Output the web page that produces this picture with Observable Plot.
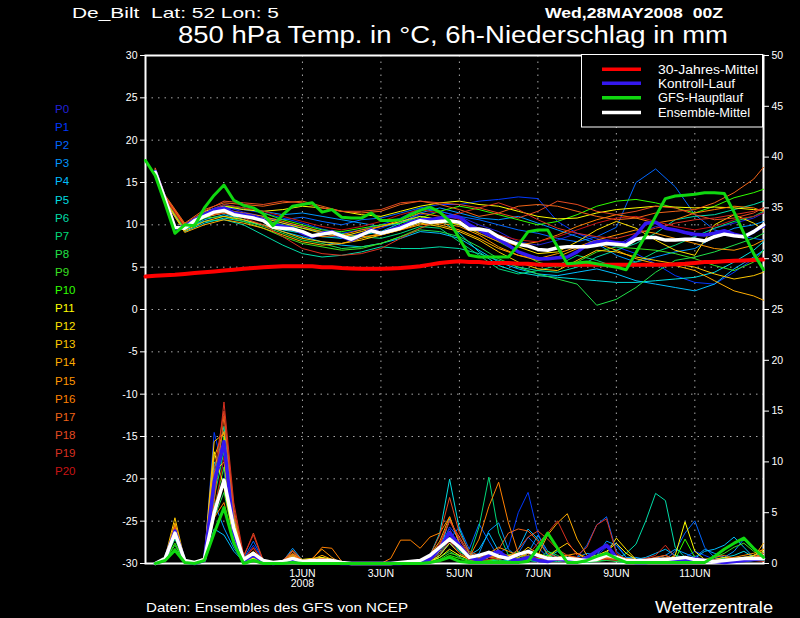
<!DOCTYPE html>
<html><head><meta charset="utf-8">
<script src="https://cdn.jsdelivr.net/npm/d3@7"></script>
<script src="https://cdn.jsdelivr.net/npm/@observablehq/plot@0.6"></script>
<style>
html,body{margin:0;padding:0;background:#000;}
#wrap{position:relative;width:800px;height:618px;background:#000;overflow:hidden;}
#wrap svg{position:absolute;left:0;top:0;}
</style></head><body><div id="wrap"></div>
<script>
// ---------------- DATA ----------------
const keyHours = [0,6,12,18,24,30,36,42,48,54,60,66,72,78,84,90,96,102,108,114,120,126,132,138,144,150,156,162,168,174,180,186,192,198,204,210,216,222,228,234,240,246,252,258,264,270,276,282,288,294,300,306,312,318,324,330,336,342,348,354,360,366,372,378];
const ensHours = [6,12,18,24,30,36,42,48,54,60,66,72,78,84,90,96,102,108,114,120,126,132,138,144,150,156,162,168,174,180,186,192,198,204,210,216,222,228,234,240,246,252,258,264,270,276,282,288,294,300,306,312,318,324,330,336,342,348,354,360,366,372,378];
const memberHours = [6,12,24,36,48,60,72,84,96,108,120,132,144,156,168,180,192,204,216,228,240,252,264,276,288,300,312,324,336,348,360,372,378];

// 30-year mean (keyHours)
const climTemp = [3.9,4.0,4.05,4.1,4.2,4.3,4.4,4.5,4.6,4.7,4.8,4.9,5.0,5.05,5.1,5.1,5.1,5.1,5.0,5.0,4.9,4.85,4.8,4.8,4.8,4.85,4.9,5.0,5.1,5.3,5.5,5.6,5.7,5.6,5.6,5.5,5.5,5.5,5.4,5.4,5.3,5.3,5.3,5.3,5.3,5.3,5.3,5.3,5.3,5.3,5.3,5.3,5.3,5.3,5.35,5.4,5.5,5.6,5.6,5.7,5.75,5.8,5.85,5.9];
// GFS main run (keyHours)
const gfsTemp = [17.6,15.8,12.5,9.0,10.0,9.9,12.0,13.5,14.7,12.9,12.3,12.0,11.3,9.9,11.2,12.2,12.4,12.6,11.5,11.8,10.9,10.8,10.8,11.4,10.5,10.5,10.6,11.2,11.7,12.1,11.5,10.4,8.4,6.4,6.2,6.2,6.2,6.2,7.6,9.2,9.4,9.4,7.4,5.4,5.5,5.6,5.4,5.2,5.0,4.7,6.7,8.8,11.0,13.1,13.4,13.5,13.6,13.8,13.8,13.7,11.5,9.0,6.6,4.7];
// control run (ensHours)
const ctrlTemp = [16.3,13.0,9.6,9.8,10.6,11.2,11.8,12.0,11.4,11.2,11.0,10.6,10.0,9.8,9.6,9.0,8.6,9.0,9.2,8.6,8.2,8.8,9.4,9.0,9.4,9.8,10.3,10.6,10.6,10.8,11.0,10.9,10.0,9.4,8.8,8.3,7.6,6.8,6.4,6.0,6.0,6.1,6.2,6.8,7.6,8.0,8.1,7.9,7.8,8.8,10.2,10.3,9.6,9.4,9.1,8.9,8.8,9.0,9.3,8.9,8.6,9.2,9.9];
// ensemble mean (ensHours)
const meanTemp = [16.2,13.0,9.7,9.6,10.5,11.0,11.5,11.7,11.2,11.0,10.8,10.5,9.7,9.6,9.5,9.2,8.7,8.9,9.1,8.7,8.3,8.8,9.3,9.0,9.3,9.6,10.1,10.5,10.3,10.4,10.5,10.3,9.5,9.5,9.3,8.6,8.1,7.7,7.5,7.1,7.0,7.3,7.4,7.4,7.4,7.6,7.8,7.7,7.6,8.3,8.5,8.5,8.2,8.2,8.3,8.3,8.1,8.6,8.9,8.7,8.6,9.2,10.0];

// members P0..P20 temperature (memberHours)
const tP0 = [16.4,13.2,9.9,11.3,12.2,11.5,11.0,10.2,9.8,9.0,8.4,9.0,9.6,10.4,11.2,11.6,11.0,10.0,9.2,8.0,7.6,8.2,9.0,8.4,7.6,8.8,9.8,9.4,8.6,9.6,10.2,10.8,11.4];
const tP1 = [16.3,13.1,9.8,11.2,12.0,11.8,11.4,10.8,10.2,9.5,9.0,9.4,10.0,10.8,12.0,12.4,12.4,12.8,13.0,13.3,13.1,10.4,9.0,8.0,7.4,6.6,5.4,4.0,3.2,3.0,4.4,6.0,7.0];
const tP2 = [16.2,13.0,9.5,11.0,11.9,11.2,10.8,10.6,10.9,10.4,10.0,10.6,10.8,11.4,12.0,11.6,11.0,10.6,10.0,9.4,9.0,8.4,8.0,8.6,9.7,15.0,16.6,14.5,11.2,9.4,8.8,8.4,8.2];
const tP3 = [16.5,13.3,10.0,11.5,12.4,12.0,11.6,11.2,11.4,11.0,10.6,10.2,9.8,10.2,11.4,12.0,11.4,10.8,10.6,11.0,10.2,9.4,8.6,7.8,6.4,5.6,6.2,6.8,7.2,8.6,9.6,10.0,10.4];
const tP4 = [16.1,12.8,9.4,10.6,11.2,10.6,10.0,9.2,8.6,8.0,7.6,7.4,7.8,8.4,9.2,9.0,8.4,7.0,5.6,4.8,4.2,4.0,4.4,4.8,4.2,3.4,3.0,2.6,2.2,3.0,4.8,6.2,7.0];
const tP5 = [16.0,12.7,9.2,10.2,10.8,10.4,10.0,9.4,9.0,8.6,8.4,8.8,9.2,10.2,11.0,10.6,9.0,6.8,5.2,4.4,4.0,3.8,3.6,3.4,3.2,3.2,3.4,3.6,3.8,4.4,5.6,7.0,8.0];
const tP6 = [16.3,13.0,9.6,10.4,10.6,10.0,8.8,7.6,6.6,6.2,6.4,6.8,7.4,7.2,7.2,7.4,7.2,6.6,5.8,5.0,4.6,4.4,5.0,6.2,7.0,7.8,9.0,10.6,11.0,11.2,11.8,12.4,12.8];
const tP7 = [16.2,12.9,9.4,10.8,11.6,11.2,10.6,10.0,9.6,9.2,9.0,8.6,8.4,9.0,9.8,9.6,8.0,6.4,4.8,4.2,4.6,5.2,6.4,5.8,5.0,5.6,6.8,7.6,8.6,9.6,10.4,11.0,11.6];
const tP8 = [16.4,13.1,9.7,11.0,11.4,10.6,9.8,9.0,8.2,7.8,7.2,7.4,7.8,8.6,9.4,9.2,8.6,7.4,6.0,5.0,4.2,3.6,3.0,0.5,1.2,2.6,4.4,5.8,6.2,6.8,7.6,8.4,9.0];
const tP9 = [16.3,13.0,9.6,10.8,11.0,10.4,9.6,8.6,7.8,7.4,7.0,7.2,7.8,8.6,9.6,10.4,10.0,9.0,8.0,6.8,5.6,5.0,5.6,6.8,7.4,7.2,7.0,6.6,6.0,5.2,4.6,5.6,7.0];
const tP10 = [16.6,13.4,10.1,11.4,12.2,12.0,11.4,10.6,10.0,9.4,9.2,9.6,10.0,10.2,10.8,11.6,12.2,11.8,11.2,10.6,10.0,10.4,11.2,12.2,12.8,13.0,12.6,12.0,11.4,12.2,13.2,13.8,14.2];
const tP11 = [16.5,13.2,9.9,11.6,12.2,11.8,11.6,11.8,12.2,12.0,11.6,11.2,11.0,11.6,12.2,12.6,12.8,12.4,12.2,11.6,11.0,10.7,10.8,11.4,11.8,12.0,12.2,12.1,12.0,12.1,12.0,11.8,11.7];
const tP12 = [16.4,13.1,9.8,10.9,11.4,11.0,10.8,10.2,9.6,9.0,8.6,9.2,9.8,10.4,11.0,10.6,10.0,9.2,8.6,7.4,6.6,6.8,8.0,9.4,10.4,9.6,8.2,7.0,6.4,10.0,11.2,10.2,9.4];
const tP13 = [16.3,12.9,9.3,10.4,11.0,10.6,10.0,9.2,8.4,8.0,7.8,8.2,8.8,9.4,10.2,9.8,9.2,8.2,6.8,5.6,4.8,4.6,5.8,7.0,6.8,6.2,5.8,5.4,5.0,4.2,3.6,4.0,4.4];
const tP14 = [16.2,12.8,9.1,10.0,10.6,10.2,9.6,8.8,8.0,7.6,7.8,8.4,9.0,9.8,10.4,10.0,9.4,8.4,7.2,6.4,5.8,6.2,7.2,7.8,7.0,6.0,5.4,5.2,4.6,3.4,2.2,1.6,1.1];
const tP15 = [16.5,13.3,9.9,11.2,11.8,11.4,11.0,10.4,9.8,9.2,8.8,8.6,8.8,9.4,10.0,10.2,9.8,8.8,7.4,6.4,6.0,6.6,7.4,8.2,8.8,9.4,9.0,8.4,7.8,7.2,7.0,7.6,8.2];
const tP16 = [16.6,13.4,10.0,11.0,11.6,11.2,10.6,9.8,9.0,8.6,8.8,9.4,9.8,10.6,11.4,11.0,10.2,9.0,8.0,7.6,8.0,8.8,9.8,10.6,11.2,10.8,10.2,10.6,11.4,11.8,12.2,12.0,11.6];
const tP17 = [16.7,13.5,10.2,11.8,12.6,12.4,12.2,12.6,12.8,12.2,11.6,11.4,11.6,12.4,12.8,12.4,11.8,11.0,11.4,12.2,12.4,12.2,11.6,11.0,10.6,10.8,11.4,11.6,11.8,12.6,13.8,15.4,16.8];
const tP18 = [16.6,13.4,10.1,11.6,12.8,12.6,12.4,12.8,12.6,12.0,11.6,11.6,11.8,12.6,12.8,12.6,12.4,12.0,11.4,10.8,11.6,12.8,12.4,11.6,11.2,11.6,12.2,12.0,11.2,10.6,10.8,11.4,12.0];
const tP19 = [16.5,13.2,9.8,11.0,11.4,10.8,10.0,8.6,7.2,6.6,6.4,6.6,7.2,8.4,9.6,10.6,11.4,12.0,12.6,11.8,10.6,9.6,9.0,8.6,8.4,9.0,9.6,10.2,10.6,10.8,11.2,11.6,12.0];
const tP20 = [16.4,13.1,9.7,11.4,12.4,12.0,11.6,11.0,10.4,9.8,9.4,9.8,10.4,11.2,11.8,11.4,10.6,9.6,8.8,8.2,8.0,8.6,9.4,10.2,10.8,11.0,10.4,9.8,9.4,9.8,10.6,11.0,11.4];

// 6h precipitation in mm (ensHours)
const gfsPrecip = [0,0.3,1.3,0.1,0,0.3,3.0,5.5,2.0,0,0.3,0,0,0,0.1,0,0,0,0,0,0,0,0,0,0,0,0,0,0.1,0.3,0.6,0.2,0.1,0.1,0.1,0.1,0.1,0.1,0.2,1.5,3.0,1.5,0.1,0.1,0.3,0.7,1.0,0.5,0.1,0.1,0.1,0.1,0.1,0.1,0.1,0.1,0.1,0.7,1.4,2.0,2.5,1.5,0.6];
const ctrlPrecip = [0,0.4,3.2,0.2,0,0.3,8.0,12.0,3.0,0.3,0.8,0.2,0,0.1,0.4,0.1,0.1,0.2,0.1,0,0,0,0,0,0,0,0.1,0.1,0.4,1.5,3.0,1.8,0.6,0.3,0.8,1.2,0.5,0.3,0.6,0.3,0.2,0.5,0.3,0.2,0.6,1.2,1.8,0.6,0.2,0.1,0.1,0.2,0.3,0.2,0.3,0.5,0.3,0.2,0.1,0.2,0.3,0.4,0.5];
const meanPrecip = [0,0.5,3.0,0.3,0.1,0.4,5.0,8.2,3.5,0.4,1.0,0.3,0.1,0.2,0.5,0.2,0.3,0.3,0.3,0.1,0,0,0,0,0,0.1,0.2,0.3,0.8,1.6,2.4,1.6,0.6,0.8,1.1,0.7,0.5,0.9,1.2,0.8,0.5,0.5,0.5,0.4,0.3,0.4,0.8,0.6,0.3,0.3,0.3,0.4,0.4,0.5,0.6,0.4,0.3,0.2,0.3,0.4,0.5,0.5,0.5];

const pP0 = [0,0.4,3.2,0.2,0,0.3,7.5,11.0,3.0,0.3,0.6,0.2,0,0.2,0.5,0.1,0.2,0.3,0.2,0,0,0,0,0,0, 0,0,0.1,0.6,1.8,3.4,1.6,0.5,0.3,0.8,0.6,0.3,0.6,1.0,0.5,0.3,0.6,0.4,0.2,0.3,0.5,1.2,0.6,0.2,0.1,0.2,0.3,0.2,0.4,0.6,0.5,0.3,0.2,0.1,0.3,0.4,0.5,0.6];
const pP1 = [0,0.5,3.4,0.3,0,0.4,12.9,9.0,2.5,0.4,1.8,0.3,0,0.2,0.8,0.2,0.3,0.4,0.2,0,0,0,0,0,0, 0,0,0,0.3,1.4,3.6,2.4,0.8,0.6,1.2,1.0,1.6,5.0,7.0,3.0,0.8,0.4,0.3,0.2,0.4,0.8,1.6,2.0,0.6,0.3,0.2,0.4,0.3,0.2,0.6,1.2,0.8,0.4,0.2,0.2,0.4,0.6,0.3];
const pP2 = [0,0.5,3.0,0.2,0,0.5,9.5,12.0,4.0,0.5,2.2,0.3,0.1,0.3,1.2,0.2,0.3,0.5,0.2,0,0,0,0,0,0, 0,0,0.1,0.2,0.8,2.4,3.6,1.4,3.9,2.2,0.6,0.4,1.0,2.6,1.6,0.6,0.4,0.3,0.6,1.8,3.8,4.6,1.2,0.4,0.2,0.3,0.6,0.4,1.2,3.0,4.2,1.6,0.6,0.4,0.4,0.6,0.8,1.0];
const pP3 = [0,0.4,2.8,0.2,0,0.6,6.0,3.5,1.5,0.2,0.5,0.1,0,0.2,1.5,0.3,0.2,0.6,0.2,0,0,0,0,0,0, 0,0,0.1,0.4,1.0,2.0,1.2,0.6,1.0,3.2,4.0,1.4,0.6,1.0,2.8,1.2,0.6,0.4,0.6,1.0,0.8,2.2,1.8,0.6,0.6,0.4,0.5,0.8,1.4,1.0,0.6,1.4,1.0,0.6,1.2,2.4,1.4,0.8];
const pP4 = [0,0.4,3.0,0.2,0,0.3,3.4,2.8,1.2,0.2,0.4,0.1,0,0.1,0.4,0.1,0.1,0.2,0.1,0,0,0,0,0,0, 0,0,0.1,0.3,1.2,4.4,2.0,0.8,1.4,3.0,1.2,0.6,1.4,3.4,2.4,0.8,0.4,0.2,0.3,0.6,0.8,1.0,0.6,0.5,0.4,0.6,1.0,1.4,0.8,0.6,0.5,1.2,1.4,1.8,2.6,1.6,0.6,0.3];
const pP5 = [0,0.5,3.3,0.3,0,0.4,10.0,8.0,3.5,0.4,0.8,0.2,0,0.2,0.6,0.1,0.2,0.3,0.2,0,0,0,0,0,0, 0,0,0.2,0.8,3.0,8.3,3.4,1.0,0.6,0.4,0.2,0.3,0.5,0.3,0.2,0.6,1.2,0.4,0.2,0.1,0.3,0.5,0.2,0.1,0.1,0.2,0.4,0.6,0.3,0.2,0.1,0.2,0.4,0.6,0.8,1.2,0.6,0.4];
const pP6 = [0,0.4,2.6,0.2,0,0.5,8.5,13.5,5.0,0.6,1.0,0.2,0,0.2,0.5,0.1,0.1,0.3,0.1,0,0,0,0,0,0, 0,0,0,0.2,0.8,2.0,1.0,0.4,0.3,0.2,0.4,0.6,0.3,0.4,0.6,0.3,0.2,0.2,0.3,0.5,0.4,0.3,0.4,1.0,1.9,4.2,6.9,6.2,1.6,0.6,0.4,0.3,0.2,0.3,0.4,0.2,0.3,0.4];
const pP7 = [0,0.4,2.4,0.2,0,0.4,6.5,11.0,4.5,0.5,0.6,0.1,0,0.1,0.3,0.1,0.1,0.2,0.1,0,0,0,0,0,0, 0,0,0,0.3,1.0,2.6,1.2,0.6,3.6,8.5,3.0,0.8,0.4,0.3,0.2,0.4,0.6,0.8,0.4,0.3,0.2,0.4,0.3,0.2,0.2,0.3,0.2,0.4,0.6,0.4,0.3,0.2,0.4,0.5,0.3,0.2,0.3,0.4];
const pP8 = [0,0.3,1.8,0.1,0,0.3,4.5,7.0,2.5,0.3,0.3,0.1,0,0.1,0.2,0,0.1,0.1,0.1,0,0,0,0,0,0, 0,0,0,0.2,0.6,1.2,0.6,0.3,0.2,0.4,0.3,0.2,0.6,0.8,0.4,1.2,0.8,0.3,0.2,0.1,0.2,0.3,0.2,0.1,0.2,0.3,0.4,0.2,0.1,0.2,0.3,0.2,0.1,0.2,0.3,0.5,0.4,0.3];
const pP9 = [0,0.3,1.5,0.1,0,0.3,5.5,9.5,3.0,0.3,0.4,0.1,0,0.1,0.3,0.1,0.1,0.2,0.1,0,0,0,0,0,0, 0,0,0,0.1,0.4,1.0,0.8,0.4,0.3,0.2,0.6,0.8,1.2,0.6,0.4,0.8,1.4,0.6,0.3,0.2,0.4,0.6,0.3,0.2,0.1,0.2,0.3,0.4,0.2,0.1,0.2,0.4,0.6,1.0,1.6,2.0,1.2,0.6];
const pP10 = [0,0.3,2.0,0.2,0,0.4,7.0,12.5,4.0,0.4,0.5,0.1,0,0.1,0.4,0.1,0.1,0.2,0.1,0,0,0,0,0,0, 0,0,0,0.1,0.3,0.8,0.5,0.2,0.1,0.3,0.6,0.4,0.2,0.3,0.5,0.8,0.4,0.2,0.1,0.2,0.3,0.5,0.4,0.2,0.1,0.1,0.2,0.3,0.4,2.4,0.6,0.3,0.2,0.3,0.4,0.6,0.5,0.4];
const pP11 = [0,0.5,3.5,0.3,0,0.5,11.0,7.5,2.5,0.3,0.5,0.2,0.1,0.2,0.9,0.4,0.5,0.6,0.4,0,0,0,0,0,0, 0,0,0,0.2,0.6,1.4,0.8,0.4,0.3,0.6,0.8,0.6,0.4,0.6,1.0,0.6,0.4,0.2,0.3,0.6,0.8,1.2,2.0,1.0,0.4,0.3,0.2,0.3,0.8,4.1,1.2,0.4,0.3,0.2,0.3,0.4,0.8,1.2];
const pP12 = [0,0.5,3.6,0.3,0,0.4,9.0,10.0,3.0,0.4,0.6,0.2,0,0.2,0.6,0.2,0.3,0.4,0.3,0,0,0,0,0,0, 0,0,0,0.2,0.8,2.0,1.0,0.5,0.4,0.6,0.5,0.8,1.0,0.6,0.4,0.5,0.6,0.8,0.5,0.4,0.6,1.0,2.5,1.4,0.4,0.3,0.2,0.4,0.5,0.3,0.2,0.3,0.4,0.6,0.5,0.4,0.6,1.0];
const pP13 = [0,0.6,4.5,0.3,0,0.6,12.0,12.8,4.0,0.5,0.8,0.2,0,0.2,0.8,0.2,0.3,0.5,0.3,0,0,0,0,0,0, 0,0,0.1,0.4,1.2,3.0,1.4,0.6,0.4,0.8,1.0,0.6,0.8,1.6,1.0,0.6,1.4,2.0,1.0,0.4,0.3,0.5,0.4,0.3,0.2,0.4,0.3,0.2,0.3,0.5,0.4,0.3,0.2,0.3,0.5,0.6,0.8,1.4];
const pP14 = [0,0.5,4.0,0.3,0,0.5,10.5,13.0,4.5,0.5,1.0,0.2,0,0.2,0.7,0.2,0.4,0.8,0.4,0,0,0,0,0,0, 0,0,0.2,0.8,2.2,4.6,2.0,0.8,0.4,0.6,1.0,0.8,0.6,1.0,0.8,2.8,4.0,4.9,2.4,0.8,0.4,0.6,0.8,0.4,0.3,0.2,0.3,0.4,0.3,0.2,0.3,0.4,0.3,0.2,0.3,0.4,0.6,2.0];
const pP15 = [0,0.5,3.8,0.3,0,0.4,8.0,11.5,3.5,0.4,1.2,0.2,0,0.3,1.0,0.2,0.5,1.4,0.6,0,0,0,0,0,0, 0,0,0.1,0.6,1.6,3.2,1.6,0.6,0.4,1.0,1.6,1.2,0.8,1.2,0.8,0.6,0.5,0.8,1.0,0.6,0.4,0.6,0.8,0.5,0.4,0.3,0.6,0.8,0.4,0.3,0.6,0.4,0.3,0.4,0.6,0.8,1.0,1.4];
const pP16 = [0,0.4,3.4,0.2,0,0.5,4.5,6.0,2.0,0.3,0.8,0.2,0,0.2,1.3,0.3,0.4,1.6,1.5,0.2,0,0,0,0,0.5, 2.3,2.3,1.5,2.6,3.0,4.6,2.0,0.6,2.4,5.6,8.0,4.0,1.0,0.6,0.4,0.3,0.6,0.8,0.5,0.3,0.4,0.6,0.4,0.3,0.2,0.4,0.3,0.2,0.3,0.4,0.3,0.2,0.3,0.4,0.3,0.4,0.6,0.8];
const pP17 = [0,0.4,3.2,0.2,0,0.4,6.0,14.5,5.0,0.5,1.5,0.2,0,0.2,0.9,0.2,0.3,0.5,0.3,0,0,0,0,0,0, 0,0,0.2,0.6,1.8,4.2,2.6,1.0,0.6,0.8,1.4,3.0,3.4,3.2,2.2,1.0,0.6,0.4,0.3,0.4,0.6,0.8,0.6,0.4,0.3,0.2,0.4,0.6,0.3,0.2,0.3,0.4,0.6,0.8,0.5,0.4,0.6,1.0];
const pP18 = [0,0.5,3.6,0.3,0,0.5,9.0,15.0,5.5,0.6,3.0,0.3,0,0.3,1.2,0.2,0.3,0.4,0.2,0,0,0,0,0,0, 0,0,0.2,0.8,2.8,6.5,3.0,1.2,0.8,0.6,0.4,0.6,1.4,2.6,3.2,2.4,1.4,0.8,0.6,0.4,0.3,0.5,0.4,0.3,0.2,0.4,0.6,0.8,0.4,0.3,0.2,0.3,0.4,0.3,0.2,0.3,0.4,0.6];
const pP19 = [0,0.4,3.0,0.2,0,0.4,7.0,15.9,6.0,0.8,2.8,0.2,0,0.2,0.6,0.1,0.2,0.3,0.2,0,0,0,0,0,0, 0,0,0.1,0.6,2.0,4.2,2.4,0.8,0.4,0.6,0.8,0.6,0.4,0.8,2.0,3.0,4.2,2.2,0.8,1.6,3.8,4.4,1.0,0.4,0.3,0.5,0.8,1.8,0.6,0.3,0.2,0.4,0.3,0.2,0.3,0.4,0.3,0.2];
const pP20 = [0,0.4,2.9,0.2,0,0.3,5.0,10.5,3.5,0.4,1.6,0.2,0,0.1,0.5,0.1,0.1,0.2,0.1,0,0,0,0,0,0, 0,0,0,0.3,1.0,2.2,1.0,0.4,0.3,0.4,0.6,0.4,0.3,0.5,0.6,0.4,0.3,0.2,0.4,0.6,0.5,0.4,0.3,0.2,0.1,0.2,0.4,0.3,0.2,0.1,0.2,0.3,0.2,0.1,0.2,0.3,0.4,0.5];

const memberNames = ["P0","P1","P2","P3","P4","P5","P6","P7","P8","P9","P10","P11","P12","P13","P14","P15","P16","P17","P18","P19","P20"];
const memberColors = ["#2222d8","#0038ff","#0066ff","#0096ff","#00beff","#00dce0","#00dca8","#00d878","#20e048","#38e020","#30ff00","#ffff00","#ffe000","#ffc800","#ffac00","#ff9600","#ff8000","#f06418","#e44a20","#d83020","#c81414"];
const tempMembers = [tP0,tP1,tP2,tP3,tP4,tP5,tP6,tP7,tP8,tP9,tP10,tP11,tP12,tP13,tP14,tP15,tP16,tP17,tP18,tP19,tP20];
const precipMembers = [pP0,pP1,pP2,pP3,pP4,pP5,pP6,pP7,pP8,pP9,pP10,pP11,pP12,pP13,pP14,pP15,pP16,pP17,pP18,pP19,pP20];

const leftTicks = [-30,-25,-20,-15,-10,-5,0,5,10,15,20,25,30];
const rightTicks = [0,5,10,15,20,25,30,35,40,45,50];
const dateTickDays = [1,3,5,7,9,11];
const dateTickLabels = ["1JUN\n2008","3JUN","5JUN","7JUN","9JUN","11JUN"];

const legendNames = ["30-Jahres-Mittel","Kontroll-Lauf","GFS-Hauptlauf","Ensemble-Mittel"];
const legendColors = ["#ff0000","#3418f0","#10d810","#ffffff"];

// ---------------- CHART ----------------
const T0 = Date.UTC(2008,4,28,0);
const toDate = h => new Date(T0 + h*3600000);
const pToY = p => p*1.2 - 30;           // right axis (0..50 mm) onto left axis (-30..30)
const dateTicks = dateTickDays.map(d => new Date(Date.UTC(2008,5,d)));
const dateLabel = new Map(dateTicks.map((d,i)=>[+d, dateTickLabels[i]]));
const rightPos = rightTicks.map(pToY);

const grid = {stroke:"#a8a8a8", strokeOpacity:1, strokeWidth:1, strokeDasharray:"1.5,5"};
const marks = [
  Plot.gridY(leftTicks.filter(v => v > -30 && v < 30), grid),
  Plot.gridX(dateTicks, grid),
  Plot.frame({stroke:"white", strokeWidth:2})
];
tempMembers.forEach((vals,i) => marks.push(Plot.line(vals, {x:(d,j)=>toDate(memberHours[j]), y:d=>d, stroke:memberColors[i], strokeWidth:1})));
precipMembers.forEach((vals,i) => marks.push(Plot.line(vals, {x:(d,j)=>toDate(ensHours[j]), y:d=>pToY(d), stroke:memberColors[i], strokeWidth:1})));
marks.push(
  Plot.line(climTemp, {x:(d,j)=>toDate(keyHours[j]), y:d=>d, stroke:legendColors[0], strokeWidth:4}),
  Plot.line(ctrlTemp, {x:(d,j)=>toDate(ensHours[j]), y:d=>d, stroke:legendColors[1], strokeWidth:3.5}),
  Plot.line(ctrlPrecip, {x:(d,j)=>toDate(ensHours[j]), y:d=>pToY(d), stroke:legendColors[1], strokeWidth:3.5}),
  Plot.line(meanTemp, {x:(d,j)=>toDate(ensHours[j]), y:d=>d, stroke:legendColors[3], strokeWidth:3.5}),
  Plot.line(meanPrecip, {x:(d,j)=>toDate(ensHours[j]), y:d=>pToY(d), stroke:legendColors[3], strokeWidth:3.5}),
  Plot.line(gfsTemp, {x:(d,j)=>toDate(keyHours[j]), y:d=>d, stroke:legendColors[2], strokeWidth:3}),
  Plot.line(gfsPrecip, {x:(d,j)=>toDate(ensHours[j]), y:d=>pToY(d), stroke:legendColors[2], strokeWidth:3}),
  Plot.axisY(leftTicks, {anchor:"left", tickSize:5, tickPadding:3, tickFormat:d=>String(d), label:null}),
  Plot.axisY(rightPos, {anchor:"right", tickSize:5, tickPadding:3, tickFormat:d=>String(Math.round((d+30)/1.2)), label:null}),
  Plot.axisX(dateTicks, {anchor:"bottom", tickSize:0, tickPadding:6, tickFormat:d=>dateLabel.get(+d), label:null})
);

const chart = Plot.plot({
  width:800, height:618,
  marginLeft:145, marginRight:37, marginTop:55, marginBottom:55,
  x:{type:"utc", domain:[toDate(keyHours[0]), toDate(keyHours[keyHours.length-1])]},
  y:{domain:[-30,30]},
  style:{background:"black", color:"white", fontFamily:"'Liberation Sans', 'DejaVu Sans', sans-serif", fontSize:"10.5px"},
  marks
});
const wrap = document.getElementById("wrap");
wrap.appendChild(chart);

// ---------------- TITLES / LEGENDS (overlay) ----------------
const NS = "http://www.w3.org/2000/svg";
const ov = document.createElementNS(NS, "svg");
ov.setAttribute("width", 800); ov.setAttribute("height", 618);
ov.style.fontFamily = "'Liberation Sans', 'DejaVu Sans', sans-serif";
function txt(s, x, y, size, fill, opts={}) {
  const t = document.createElementNS(NS, "text");
  t.setAttribute("x", x); t.setAttribute("y", y);
  t.setAttribute("font-size", size); t.setAttribute("fill", fill);
  t.setAttribute("style", "white-space:pre");
  if (opts.len) { t.setAttribute("textLength", opts.len); t.setAttribute("lengthAdjust", "spacingAndGlyphs"); }
  if (opts.weight) t.setAttribute("font-weight", opts.weight);
  t.textContent = s; ov.appendChild(t); return t;
}
txt("De_Bilt  Lat: 52 Lon: 5", 72, 17.5, 14.5, "white", {len:207});
txt("Wed,28MAY2008  00Z", 545, 17.5, 14.5, "white", {len:178, weight:"bold"});
txt("850 hPa Temp. in °C, 6h-Niederschlag in mm", 178, 42.5, 23, "white", {len:550});
memberNames.forEach((n,i) => txt(n, 55, 113 + i*18.1, 11.5, memberColors[i]));
// legend box
const box = document.createElementNS(NS, "rect");
box.setAttribute("x", 581.5); box.setAttribute("y", 54.5); box.setAttribute("width", 181); box.setAttribute("height", 72.5);
box.setAttribute("fill", "black"); box.setAttribute("stroke", "white"); box.setAttribute("stroke-width", 1);
ov.appendChild(box);
const legY = [69.3, 83.2, 97.8, 112.5];
const legLen = [100, 77, 85, 92];
legendNames.forEach((n,i) => {
  const l = document.createElementNS(NS, "line");
  l.setAttribute("x1", 602); l.setAttribute("x2", 641); l.setAttribute("y1", legY[i]); l.setAttribute("y2", legY[i]);
  l.setAttribute("stroke", legendColors[i]); l.setAttribute("stroke-width", 3.5);
  ov.appendChild(l);
  txt(n, 658, legY[i] + 4.5, 12, "white", {len:legLen[i]});
});
txt("Daten: Ensembles des GFS von NCEP", 146, 611.5, 13, "white", {len:262});
txt("Wetterzentrale", 655, 613, 16, "white", {len:118});
wrap.appendChild(ov);
</script></body></html>
